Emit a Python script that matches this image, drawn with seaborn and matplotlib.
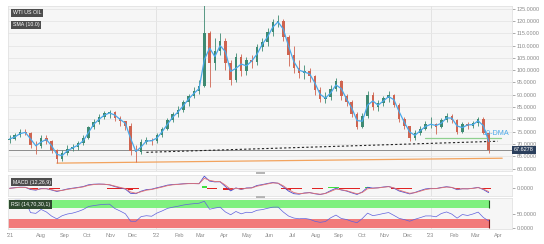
import numpy as np
import pandas as pd
import matplotlib
matplotlib.use("Agg")
import matplotlib.pyplot as plt
from matplotlib.patches import Rectangle
from matplotlib.transforms import blended_transform_factory
import seaborn as sns

# ---------------- data (weekly candles) ----------------
start_date = "2021-06-20"
opens = [71.5, 72.0, 73.6, 74.8, 74.6, 69.5, 69.0, 72.6, 71.0, 67.5,
         64.0, 66.5, 68.0, 68.8, 70.2, 72.3, 77.0, 79.0, 81.0, 82.4,
         82.8, 80.7, 79.3, 77.5, 67.0, 66.8, 70.8, 71.6, 71.0, 73.8,
         76.2, 79.8, 82.0, 84.0, 87.0, 89.5, 91.5, 93.5, 115.0, 103.0,
         108.0, 112.0, 103.0, 96.0, 105.5, 99.5, 104.0, 103.5, 109.5, 111.5,
         115.5, 119.5, 119.8, 113.5, 106.0, 101.0, 99.0, 99.5, 97.5, 92.0,
         88.3, 89.0, 92.5, 95.5, 89.5, 87.2, 82.0, 77.0, 81.5, 90.0,
         85.0, 86.5, 88.5, 90.0, 86.0, 80.2, 77.2, 72.5, 74.5, 76.2,
         78.0, 78.0, 77.0, 79.8, 81.4, 79.6, 75.0, 78.3, 77.2, 78.5,
         80.3, 74.5]
closes = [72.0, 73.6, 74.8, 74.6, 69.5, 69.0, 72.6, 71.0, 67.5, 64.0,
          66.5, 68.0, 68.8, 70.2, 72.3, 77.0, 79.0, 81.0, 82.4, 82.8,
          80.7, 79.3, 77.5, 67.0, 66.8, 70.8, 71.6, 71.0, 73.8, 76.2,
          79.8, 82.0, 84.0, 87.0, 89.5, 91.5, 93.5, 115.0, 103.0, 108.0,
          112.0, 103.0, 96.0, 105.5, 99.5, 104.0, 103.5, 109.5, 111.5, 115.5,
          119.5, 119.8, 113.5, 106.0, 101.0, 99.0, 99.5, 97.5, 92.0, 88.3,
          89.0, 92.5, 95.5, 89.5, 87.2, 82.0, 77.0, 81.5, 90.0, 85.0,
          86.5, 88.5, 90.0, 86.0, 80.2, 77.2, 72.5, 74.5, 76.2, 78.0,
          78.0, 77.0, 79.8, 81.4, 79.6, 75.0, 78.3, 77.2, 78.5, 80.3,
          74.5, 67.6]
highs = [73.5, 74.5, 76.0, 76.0, 75.0, 71.0, 73.5, 73.5, 71.5, 68.0,
         67.5, 69.5, 70.0, 71.0, 73.5, 77.5, 80.0, 82.0, 83.5, 84.0,
         83.5, 81.5, 79.5, 78.5, 69.5, 72.0, 73.0, 72.5, 74.5, 77.0,
         80.5, 83.0, 85.5, 88.0, 90.5, 93.0, 96.0, 126.5, 116.0, 113.0,
         115.0, 113.0, 104.0, 107.0, 106.5, 105.5, 106.0, 110.5, 113.0, 117.0,
         121.0, 122.5, 121.0, 114.5, 110.0, 104.0, 102.0, 101.0, 98.0, 93.0,
         91.0, 94.0, 97.0, 96.0, 90.5, 88.0, 83.0, 82.5, 91.5, 91.0,
         88.0, 89.5, 91.5, 90.5, 86.5, 81.0, 77.5, 75.5, 77.5, 79.5,
         81.0, 78.5, 80.5, 82.5, 82.0, 80.0, 79.0, 79.0, 79.5, 81.0,
         81.0, 75.0]
lows = [70.5, 71.5, 73.0, 73.5, 68.5, 66.0, 68.5, 70.0, 66.5, 62.2,
        63.0, 65.5, 67.0, 67.5, 69.5, 72.0, 76.0, 78.0, 80.0, 80.5,
        79.5, 77.5, 75.5, 65.5, 62.8, 66.0, 70.0, 69.5, 70.5, 73.0,
        75.5, 79.0, 81.0, 83.0, 85.5, 88.5, 90.5, 93.0, 93.0, 100.0,
        106.0, 100.0, 94.0, 95.0, 97.5, 98.0, 101.0, 102.0, 108.0, 110.0,
        114.0, 117.5, 112.0, 101.5, 99.0, 97.0, 96.5, 95.0, 90.0, 87.0,
        86.5, 88.0, 91.5, 88.0, 85.5, 81.0, 76.0, 76.5, 80.5, 84.0,
        83.5, 85.5, 87.0, 85.0, 79.0, 76.0, 71.0, 71.5, 73.5, 75.5,
        76.5, 74.0, 76.5, 79.0, 78.5, 74.0, 74.5, 76.0, 76.5, 77.5,
        74.0, 66.2]

last_price_label = "67.6278"
last_price = 67.63

# annotation lines (date, value)
dotted_dates = ["2021-12-19", "2023-03-31"]
dotted_vals = [66.6, 71.1]
orange_dates = ["2021-08-22", "2023-04-06"]
orange_vals = [62.2, 64.2]
green_dates = ["2022-12-24", "2023-04-04"]
green_vals = [72.5, 72.5]
dma_label_date = "2023-03-11"
dma_label_val = 74.2

tick_dates = ["2021-06-21", "2021-08-01", "2021-09-01", "2021-10-01", "2021-11-01",
              "2021-12-01", "2022-01-01", "2022-02-01", "2022-03-01", "2022-04-01",
              "2022-05-01", "2022-06-01", "2022-07-01", "2022-08-01", "2022-09-01",
              "2022-10-01", "2022-11-01", "2022-12-01", "2023-01-01", "2023-02-01",
              "2023-03-01", "2023-04-01"]
tick_labels = ["'21", "Aug", "Sep", "Oct", "Nov", "Dec", "'22", "Feb", "Mar", "Apr",
               "May", "Jun", "Jul", "Aug", "Sep", "Oct", "Nov", "Dec", "'23", "Feb",
               "Mar", "Apr"]
year_lines = ["2022-01-01", "2023-01-01"]
x_range = ["2021-06-18", "2023-04-19"]

# ---------------- build frame ----------------
dates = pd.date_range(start_date, periods=len(closes), freq="7D")
df = pd.DataFrame({"date": dates, "open": opens, "close": closes,
                   "high": highs, "low": lows})
df["sma"] = df["close"].rolling(2, min_periods=1).mean()
ema_fast = df["close"].ewm(span=12 / 5, adjust=False).mean()
ema_slow = df["close"].ewm(span=26 / 5, adjust=False).mean()
df["macd"] = ema_fast - ema_slow
df["signal"] = df["macd"].ewm(span=9 / 5, adjust=False).mean()
df["hist"] = df["macd"] - df["signal"]
delta = df["close"].diff()
up = delta.clip(lower=0).ewm(alpha=1 / 6, adjust=False).mean()
dn = (-delta.clip(upper=0)).ewm(alpha=1 / 6, adjust=False).mean()
df["rsi"] = 100 - 100 / (1 + up / dn)

# ---------------- style ----------------
sns.set_theme(style="white")
plt.rcParams["font.family"] = ["Liberation Sans", "DejaVu Sans"]

W, H = 544, 244
fig = plt.figure(figsize=(W / 100, H / 100), dpi=100)
fig.patch.set_facecolor("white")

def fax(l, t, r, b):
    return fig.add_axes([l / W, 1 - b / H, (r - l) / W, (b - t) / H])

ax = fax(8, 6, 512, 171)
axm = fax(8, 175, 512, 195.7)
axr = fax(8, 198.3, 512, 228.5)

xl = [pd.Timestamp(x_range[0]), pd.Timestamp(x_range[1])]
BG = "#f6f6f6"
tick_col = "#8a8a8a"
for a in (ax, axm, axr):
    a.set_facecolor(BG)
    a.set_xlim(xl)
    for s in a.spines.values():
        s.set_color("#e2e2e2")
        s.set_linewidth(0.6)
    a.yaxis.tick_right()
    a.tick_params(axis="y", labelsize=4, colors=tick_col, length=2, width=0.5, pad=1.5)
    a.tick_params(axis="x", length=0)
    for yd in year_lines:
        a.axvline(pd.Timestamp(yd), color="#e0e0e0", lw=0.6, zorder=0)
    a.set_xticks([])

# ---------------- main panel ----------------
ax.set_ylim(59.0, 126.1)
ax.set_yticks(np.arange(60, 126, 5))
ax.yaxis.set_major_formatter(matplotlib.ticker.FormatStrFormatter("%.4f"))
ax.grid(axis="y", color="#e6e6e6", lw=0.6)
ax.set_axisbelow(True)

bull = df["close"] >= df["open"]
cols = np.where(bull, "#3e8a72", "#cf6450")
ax.vlines(df["date"], df["low"], df["high"], colors=cols, lw=0.6, zorder=3)
body_lo = np.minimum(df["open"], df["close"])
body_h = np.maximum(np.abs(df["close"] - df["open"]), 0.25)
ax.bar(df["date"], body_h, bottom=body_lo, width=3.4, color=cols, zorder=3, linewidth=0)

sns.lineplot(data=df, x="date", y="sma", ax=ax, color="#4aa8ea", lw=0.9, zorder=4)

ax.axhline(last_price, color="#8c8c8c", lw=0.7, zorder=2)
ax.plot(pd.to_datetime(dotted_dates), dotted_vals, color="#222222", lw=0.8,
        ls=(0, (2, 2)), zorder=2)
ax.plot(pd.to_datetime(orange_dates), orange_vals, color="#f2a35e", lw=0.9, zorder=2)
ax.plot(pd.to_datetime(green_dates), green_vals, color="#8fd08f", lw=0.9, zorder=2)
ax.text(pd.Timestamp(dma_label_date), dma_label_val, "10-DMA", color="#4aa8ea",
        fontsize=5.2, ha="left", va="center", zorder=5)
ax.set_xlabel("")
ax.set_ylabel("")

tr = blended_transform_factory(ax.transAxes, ax.transData)
ax.text(1.004, last_price, last_price_label, transform=tr, fontsize=4, color="white",
        ha="left", va="center",
        bbox=dict(boxstyle="square,pad=0.3", fc="#2b3f5c", ec="none"))

box = dict(boxstyle="square,pad=0.35", fc="#4d4d4d", ec="none")
ax.text(0.009, 0.958, "WTI US OIL", transform=ax.transAxes, fontsize=3.8,
        color="white", ha="left", va="center", bbox=box)
ax.text(0.009, 0.885, "SMA (10.0)", transform=ax.transAxes, fontsize=3.8,
        color="white", ha="left", va="center", bbox=box)

# ---------------- MACD panel ----------------
hcols = np.where(df["hist"] >= 0, "#3fe03f", "#e02424")
axm.bar(df["date"], df["hist"], width=7, color=hcols, linewidth=0, zorder=2)
sns.lineplot(data=df, x="date", y="macd", ax=axm, color="#4b4bd0", lw=0.6, zorder=3)
sns.lineplot(data=df, x="date", y="signal", ax=axm, color="#e27272", lw=0.6, zorder=3)
top = max(df["macd"].max(), df["signal"].max(), -df["macd"].min() / 0.556) * 1.1
axm.set_ylim(-0.556 * top, top)
axm.set_yticks([0])
axm.yaxis.set_major_formatter(matplotlib.ticker.FormatStrFormatter("%.4f"))
axm.set_xlabel("")
axm.set_ylabel("")
axm.set_xticks([])
axm.text(0.009, 0.66, "MACD (12,26,9)", transform=axm.transAxes, fontsize=3.8,
         color="white", ha="left", va="center", bbox=box)

# ---------------- RSI panel ----------------
last_d = df["date"].iloc[-1]
axr.fill_between([xl[0], last_d], 70, 100, color="#7ff07f", lw=0, zorder=1)
axr.fill_between([xl[0], last_d], 0, 30, color="#f27a7a", lw=0, zorder=1)
axr.vlines([last_d, last_d], [0, 70], [30, 100], colors=["#7a1a1a", "#1f5a1f"], lw=0.8, zorder=2)
sns.lineplot(data=df, x="date", y="rsi", ax=axr, color="#6060dd", lw=0.5, zorder=3)
axr.set_ylim(-3, 107)
axr.set_yticks([0, 50])
axr.yaxis.set_major_formatter(matplotlib.ticker.FormatStrFormatter("%.4f"))
axr.set_xlabel("")
axr.set_ylabel("")
axr.set_xticks(pd.to_datetime(tick_dates))
axr.set_xticklabels(tick_labels)
axr.tick_params(axis="x", labelsize=4, colors=tick_col, length=0, pad=3.5)
axr.text(0.006, 0.795, "RSI (14,70,30,1)", transform=axr.transAxes, fontsize=3.8,
         color="white", ha="left", va="center",
         bbox=dict(boxstyle="square,pad=0.35", fc="#2f4a2f", ec="none"))

# separator handles
for yy in (171.7, 195.7):
    fig.patches.append(Rectangle((256 / W, 1 - (yy + 2) / H), 9 / W, 2 / H,
                                 transform=fig.transFigure, fc="#b5b5b5", ec="none"))

fig.savefig("out.png", dpi=100)
